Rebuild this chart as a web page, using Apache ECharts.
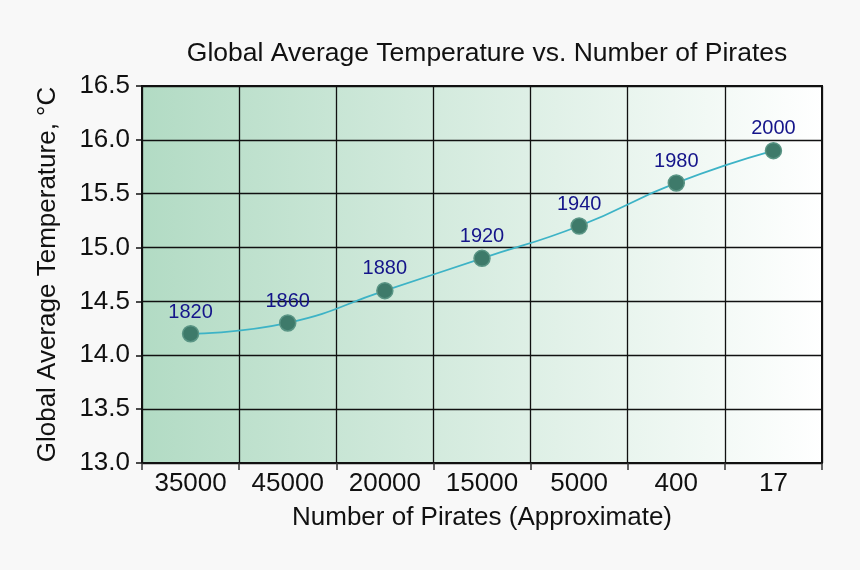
<!DOCTYPE html>
<html><head><meta charset="utf-8">
<script src="https://cdn.jsdelivr.net/npm/echarts@6/dist/echarts.min.js"></script>
<style>html,body{margin:0;padding:0;background:#f8f8f8}#c{width:860px;height:570px}</style>
</head><body><div id="c"></div>
<script>
const categories = ['35000','45000','20000','15000','5000','400','17'];
const temperatures = [14.2, 14.3, 14.6, 14.9, 15.2, 15.6, 15.9];
const years = ['1820','1860','1880','1920','1940','1980','2000'];
const yTicks = {min: 13.0, max: 16.5, interval: 0.5};

const chart = echarts.init(document.getElementById('c'));
const ff = '"Liberation Sans", Arial, sans-serif';
chart.setOption({
  backgroundColor: '#f8f8f8',
  animation: false,
  title: {text: 'Global Average Temperature vs. Number of Pirates', left: 482, top: 35, textAlign: 'center',
    textStyle: {fontFamily: ff, fontSize: 26.5, fontWeight: 'normal', color: '#111'}},
  grid: {left: 142, right: 38, top: 86, bottom: 107, show: true, borderColor: '#111', borderWidth: 2,
    backgroundColor: {type: 'linear', x: 0, y: 0, x2: 1, y2: 0, colorStops: [
      {offset: 0, color: '#b2dbc4'}, {offset: 1, color: '#ffffff'}]}},
  xAxis: {type: 'category', data: categories, boundaryGap: true,
    name: 'Number of Pirates (Approximate)', nameLocation: 'middle', nameGap: 42,
    nameTextStyle: {fontFamily: ff, fontSize: 26, color: '#111'},
    axisLine: {show: true, lineStyle: {color: '#111', width: 2}},
    axisTick: {show: true, alignWithLabel: false, length: 7, lineStyle: {color: '#333', width: 1.5}},
    axisLabel: {fontFamily: ff, fontSize: 26, color: '#111', margin: 8},
    splitLine: {show: true, lineStyle: {color: '#111', width: 1.3}}},
  yAxis: {type: 'value', min: yTicks.min, max: yTicks.max, interval: yTicks.interval,
    name: 'Global Average Temperature, °C', nameLocation: 'middle', nameGap: 81, nameRotate: 90,
    nameTextStyle: {fontFamily: ff, fontSize: 26, color: '#111'},
    axisLine: {show: true, lineStyle: {color: '#111', width: 2}},
    axisTick: {show: true, length: 6, lineStyle: {color: '#111', width: 1.5}},
    axisLabel: {fontFamily: ff, fontSize: 26, color: '#111', margin: 12, formatter: v => v.toFixed(1)},
    splitLine: {show: true, lineStyle: {color: '#111', width: 1.3}}},
  series: [{type: 'line', data: temperatures, smooth: 0.5,
    symbol: 'circle', symbolSize: 16,
    lineStyle: {color: '#3db3c6', width: 1.8},
    itemStyle: {color: '#3e7a6a', borderColor: '#5a9585', borderWidth: 1.5},
    label: {show: true, position: 'top', distance: 3, formatter: p => years[p.dataIndex],
      fontFamily: ff, fontSize: 20, color: '#14148a'}}]
});
</script></body></html>
